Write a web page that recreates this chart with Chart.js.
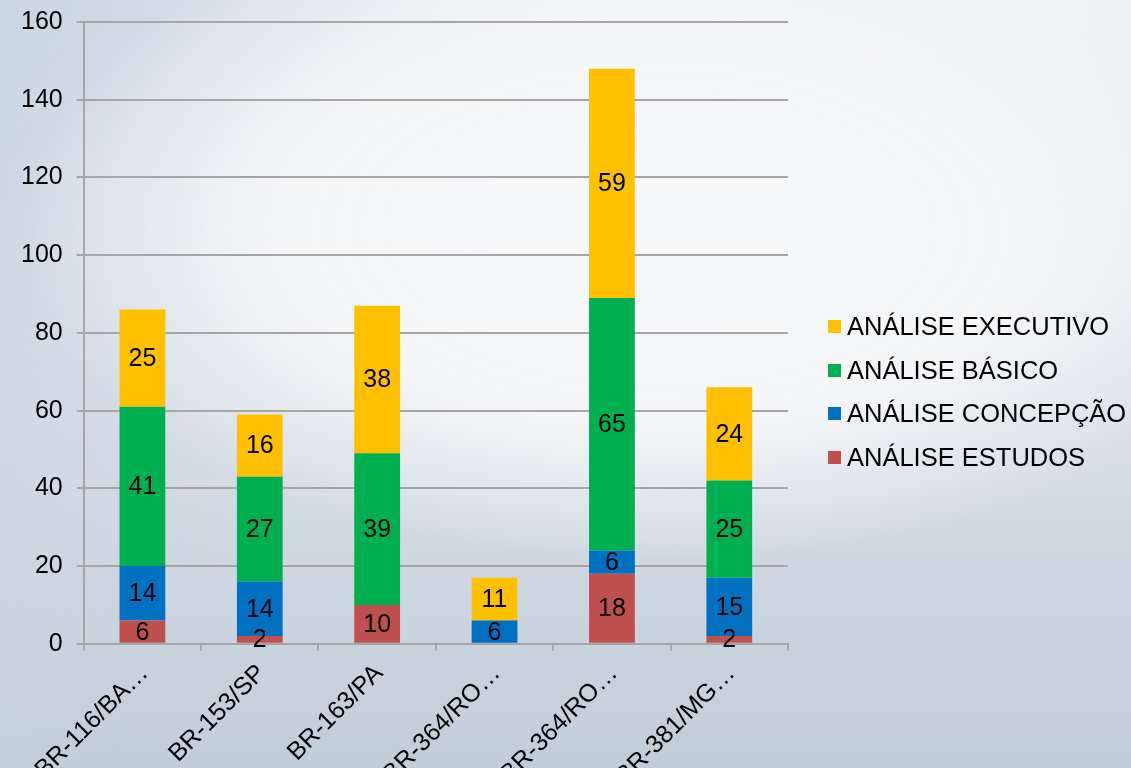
<!DOCTYPE html>
<html>
<head>
<meta charset="utf-8">
<script src="https://cdn.jsdelivr.net/npm/chart.js@4/dist/chart.umd.min.js"></script>
<style>
  html, body { margin: 0; padding: 0; width: 1131px; height: 768px; overflow: hidden; }
  body {
    background:
      radial-gradient(ellipse 640px 330px at 660px 230px, rgba(248,249,250,1) 0%, rgba(245,246,248,0.95) 60%, rgba(240,242,244,0) 100%),
      linear-gradient(120deg, rgba(196,210,224,0.9) 0%, rgba(200,212,226,0.5) 18%, rgba(220,226,232,0) 35%),
      linear-gradient(180deg, #eef1f4 0%, #dde3ea 45%, #c1cdd9 100%);
    font-family: "Liberation Sans", Arial, sans-serif;
  }
  #wrap { position: absolute; left: 0; top: -7px; width: 1131px; height: 806px; }
  #legend { position: absolute; left: 828px; top: 305px; }
  .item { display: flex; align-items: center; height: 43.5px; font-size: 25.5px; color: #000; white-space: nowrap; }
  .box { width: 13px; height: 13px; margin-right: 6px; }
</style>
</head>
<body>
<div id="wrap"><canvas id="chart"></canvas></div>
<div id="legend"></div>
<script>
Chart.defaults.font.family = '"Liberation Sans", Arial, sans-serif'
Chart.defaults.font.size = 25
Chart.defaults.color = '#000'

const roads = ['BR-116/BA…', 'BR-153/SP', 'BR-163/PA', 'BR-364/RO…', 'BR-364/RO…', 'BR-381/MG…']
const estudos = [6, 2, 10, 0, 18, 2]
const concepcao = [14, 14, 0, 6, 6, 15]
const basico = [41, 27, 39, 0, 65, 25]
const executivo = [25, 16, 38, 11, 59, 24]
const yTicks = [0, 20, 40, 60, 80, 100, 120, 140, 160]

const segmentLabels = {
    id: 'segmentLabels',
    afterDatasetsDraw(chart) {
        const { ctx } = chart
        ctx.save()
        ctx.font = '25px "Liberation Sans", Arial, sans-serif'
        ctx.fillStyle = '#000'
        ctx.textAlign = 'center'
        ctx.textBaseline = 'middle'
        chart.data.datasets.forEach((ds, i) => {
            chart.getDatasetMeta(i).data.forEach((bar, j) => {
                const v = ds.data[j]
                if (!v) return
                const p = bar.getProps(['x', 'y', 'base'], true)
                ctx.fillText(v, p.x, (p.y + p.base) / 2 + 1)
            })
        })
        ctx.restore()
    }
}

const data = {
    labels: roads,
    datasets: [
        { label: 'ANÁLISE ESTUDOS', data: estudos, backgroundColor: '#C0504D' },
        { label: 'ANÁLISE CONCEPÇÃO', data: concepcao, backgroundColor: '#0070C0' },
        { label: 'ANÁLISE BÁSICO', data: basico, backgroundColor: '#00B050' },
        { label: 'ANÁLISE EXECUTIVO', data: executivo, backgroundColor: '#FFC000' }
    ]
}

const options = {
    responsive: true,
    maintainAspectRatio: false,
    animation: false,
    layout: { padding: { left: 7, top: 3, right: 343, bottom: 0 } },
    datasets: { bar: { barPercentage: 0.39, categoryPercentage: 1 } },
    plugins: {
        legend: { display: false },
        tooltip: { enabled: false }
    },
    scales: {
        x: {
            stacked: true,
            afterFit: s => { s.paddingLeft = 0; s.paddingRight = 0 },
            grid: { display: true, drawOnChartArea: false, drawTicks: true, tickLength: 7, color: '#a6a6a6', lineWidth: 2, offset: true },
            border: { color: '#a6a6a6', width: 2 },
            ticks: { autoSkip: false, minRotation: 45, maxRotation: 45, padding: 8, labelOffset: 2 }
        },
        y: {
            stacked: true,
            min: 0,
            max: 160,
            afterBuildTicks: axis => { axis.ticks = yTicks.map(v => ({ value: v })) },
            grid: { color: '#a6a6a6', lineWidth: 2, tickLength: 7 },
            border: { color: '#a6a6a6', width: 2 },
            ticks: { padding: 14 }
        }
    }
}

const chart = new Chart('chart', { type: 'bar', data, options, plugins: [segmentLabels] })

const legend = document.getElementById('legend')
chart.data.datasets.slice().reverse().forEach(ds => {
    const row = document.createElement('div')
    row.className = 'item'
    row.innerHTML = `<span class="box" style="background:${ds.backgroundColor}"></span><span>${ds.label}</span>`
    legend.appendChild(row)
})
</script>
</body>
</html>
